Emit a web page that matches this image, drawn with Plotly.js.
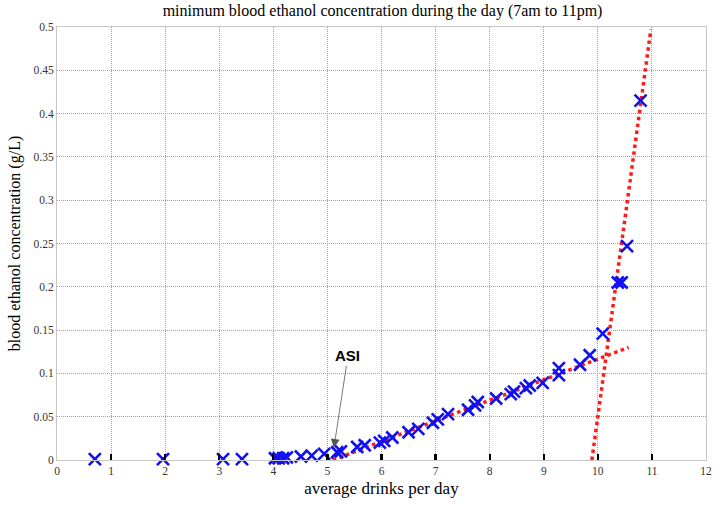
<!DOCTYPE html>
<html>
<head>
<meta charset="utf-8">
<script src="https://cdn.plot.ly/plotly-3.0.1.min.js"></script>
<style>
  body { margin: 0; background: #fff; }
  #graphDiv { width: 715px; height: 506px; }
</style>
</head>
<body>
<div id="graphDiv"></div>
<script>
// simulated points (average drinks/day vs min blood ethanol, g/L)
var drinks = [0.70, 1.96, 3.07, 3.42, 4.03, 4.10, 4.18, 4.25, 4.51, 4.71, 4.94,
    5.18, 5.25, 5.55, 5.69, 5.97, 6.05, 6.20, 6.50, 6.68, 6.95, 7.04, 7.23,
    7.60, 7.73, 7.78, 8.12, 8.39, 8.45, 8.67, 8.74, 8.98, 9.28, 9.28, 9.67,
    9.85, 10.09, 10.37, 10.44, 10.54, 10.79];
var ethanol = [0.001, 0.001, 0.001, 0.001, 0.002, 0.002, 0.002, 0.003, 0.004, 0.005, 0.007,
    0.009, 0.010, 0.015, 0.017, 0.020, 0.022, 0.026, 0.032, 0.036, 0.043, 0.047, 0.053,
    0.058, 0.063, 0.067, 0.071, 0.076, 0.079, 0.083, 0.086, 0.089, 0.098, 0.106, 0.110,
    0.121, 0.146, 0.205, 0.205, 0.247, 0.415];

// the two fitted lines (end points)
var fitLowX = [5.10, 10.57];
var fitLowY = [0.000, 0.130];
var fitHighX = [9.89, 10.98];
var fitHighY = [0.000, 0.497];

var xTicks = [0, 1, 2, 3, 4, 5, 6, 7, 8, 9, 10, 11, 12];
var yTicks = [0, 0.05, 0.1, 0.15, 0.2, 0.25, 0.3, 0.35, 0.4, 0.45, 0.5];
var yTickText = ["0", "0.05", "0.1", "0.15", "0.2", "0.25", "0.3", "0.35", "0.4", "0.45", "0.5"];

var serif = "Liberation Serif, Times New Roman, serif";

var fitLine = {
    color: "#ff1a1a",
    width: 3.5,
    dash: "dot"
};

var data = [
    {
        type: "scatter",
        mode: "lines",
        x: fitLowX,
        y: fitLowY,
        line: fitLine,
        hoverinfo: "skip"
    },
    {
        type: "scatter",
        mode: "lines",
        x: fitHighX,
        y: fitHighY,
        line: fitLine,
        hoverinfo: "skip"
    },
    {
        type: "scatter",
        mode: "markers",
        x: drinks,
        y: ethanol,
        cliponaxis: false,
        marker: {
            symbol: "x-thin",
            size: 12,
            color: "#1010f0",
            line: { color: "#1010f0", width: 2.6 }
        }
    }
];

var layout = {
    width: 715,
    height: 506,
    showlegend: false,
    paper_bgcolor: "#fff",
    plot_bgcolor: "#fff",
    margin: { l: 57, r: 9, t: 27, b: 46, pad: 0 },
    title: {
        text: "minimum blood ethanol concentration during the day (7am to 11pm)",
        font: { family: serif, size: 16, color: "#000" },
        x: 0.535,
        xanchor: "center",
        y: 0.99,
        yanchor: "top"
    },
    xaxis: {
        range: [0, 12],
        tickmode: "array",
        tickvals: xTicks,
        ticks: "",
        showgrid: true,
        gridcolor: "#a0a0a0",
        griddash: "1px,1px",
        gridwidth: 1,
        zeroline: false,
        showline: true,
        linecolor: "#c8c8c8",
        mirror: true,
        tickfont: { family: serif, size: 11.5, color: "#333" },
        minor: {
            tickmode: "array",
            tickvals: [1, 2, 3, 4, 5, 6, 7, 8, 9, 10, 11],
            ticks: "inside",
            ticklen: 6,
            tickwidth: 2.2,
            tickcolor: "#000",
            showgrid: false
        },
        title: {
            text: "average drinks per day",
            font: { family: serif, size: 17, color: "#000" },
            standoff: 6
        }
    },
    yaxis: {
        range: [0, 0.5],
        tickmode: "array",
        tickvals: yTicks,
        ticktext: yTickText,
        ticks: "",
        showgrid: true,
        gridcolor: "#a0a0a0",
        griddash: "1px,1px",
        gridwidth: 1,
        zeroline: false,
        showline: true,
        linecolor: "#c8c8c8",
        mirror: true,
        tickfont: { family: serif, size: 11.5, color: "#333" },
        title: {
            text: "blood ethanol concentration (g/L)",
            font: { family: serif, size: 16, color: "#000" },
            standoff: 8
        }
    },
    annotations: [
        {
            x: 5.12,
            y: 0.014,
            xref: "x",
            yref: "y",
            text: "<b>ASI</b>",
            font: { family: "Liberation Sans, Arial, sans-serif", size: 15, color: "#000" },
            showarrow: true,
            ax: 14,
            ay: -92,
            arrowcolor: "#555",
            arrowwidth: 0.8,
            arrowhead: 2,
            arrowsize: 2.2
        }
    ]
};

Plotly.newPlot("graphDiv", data, layout, { displayModeBar: false, staticPlot: true });
</script>
</body>
</html>
